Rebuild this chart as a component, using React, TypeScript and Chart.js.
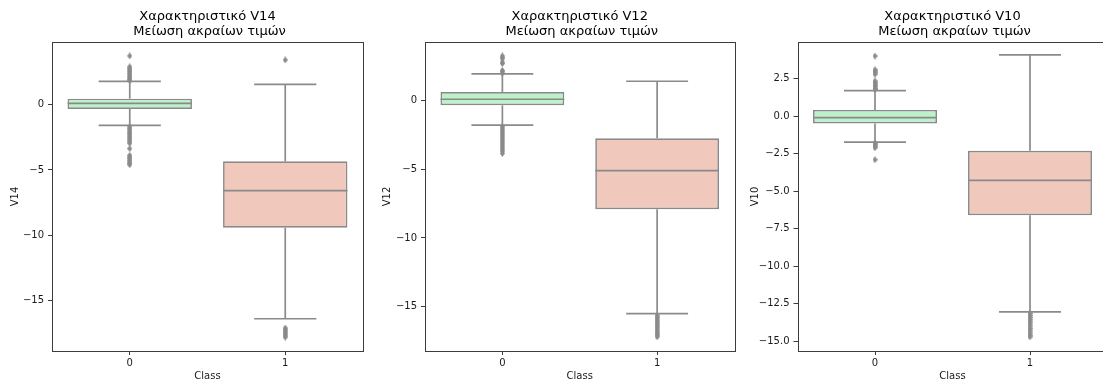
import React, { useEffect, useRef } from "react";
import { Chart, registerables } from "chart.js";

Chart.register(...registerables);

// ---------- data ----------
const categories = ["0", "1"];
const titleLines = ["Χαρακτηριστικό V14", "Χαρακτηριστικό V12", "Χαρακτηριστικό V10"];
const titleSub = " Μείωση ακραίων τιμών";
const yAxisLabels = ["V14", "V12", "V10"];
const xAxisLabel = "Class";

// V14
const v14Q1 = [-0.33, -9.42];
const v14Median = [0.1, -6.58];
const v14Q3 = [0.46, -4.34];
const v14WhiskerLow = [-1.58, -16.39];
const v14WhiskerHigh = [1.79, 1.56];
const v14OutliersClass0 = [3.73, 2.9, 2.78, 2.65, 2.52, 2.4, 2.28, 2.15, 2.03, 1.92, 1.84,
  -1.7, -1.82, -1.95, -2.08, -2.2, -2.33, -2.46, -2.58, -2.7, -2.83, -2.96, -3.37,
  -3.88, -4.0, -4.12, -4.25, -4.38, -4.5, -4.6];
const v14OutliersClass1 = [3.42, -17.1, -17.22, -17.34, -17.46, -17.58, -17.7, -17.8];
const v14YRange = [-18.86, 4.8];
const v14YTicks = [0, -5, -10, -15];

// V12
const v12Q1 = [-0.34, -7.91];
const v12Median = [0.1, -5.1];
const v12Q3 = [0.63, -2.74];
const v12WhiskerLow = [-1.79, -15.51];
const v12WhiskerHigh = [1.94, 1.41];
const v12OutliersClass0 = [3.25, 3.15, 3.05, 2.8, 2.7, 2.2, 2.1, 2.0,
  -1.88, -2.0, -2.12, -2.25, -2.38, -2.5, -2.63, -2.76, -2.9, -3.03, -3.16, -3.3,
  -3.43, -3.56, -3.7, -3.85];
const v12OutliersClass1 = [-15.65, -15.78, -15.9, -16.03, -16.16, -16.3, -16.43, -16.56,
  -16.7, -16.83, -16.96, -17.08, -17.2];
const v12YRange = [-18.23, 4.27];
const v12YTicks = [0, -5, -10, -15];

// V10
const v10Q1 = [-0.49, -6.6];
const v10Median = [-0.09, -4.27];
const v10Q3 = [0.42, -2.31];
const v10WhiskerLow = [-1.73, -13.04];
const v10WhiskerHigh = [1.71, 4.09];
const v10OutliersClass0 = [4.01, 3.1, 3.0, 2.9, 2.8, 2.35, 2.25, 2.15, 2.05, 1.95, 1.85, 1.78,
  -1.8, -1.9, -2.0, -2.1, -2.9];
const v10OutliersClass1 = [-13.15, -13.28, -13.42, -13.56, -13.7, -13.84, -14.0, -14.15,
  -14.3, -14.45, -14.6, -14.71];
const v10YRange = [-15.65, 4.95];
const v10YTicks = [2.5, 0, -2.5, -5, -7.5, -10, -12.5, -15];
const v10TickDecimals = 1;

// ---------- styling / layout ----------
const BOX_FILLS = ["#bcf1ca", "#f1c9bc"];
const LINE_GRAY = "#8a8a8a";
const AXIS_COLOR = "#3c3c3c";
const TEXT_COLOR = "#1a1a1a";
const FONT = "'DejaVu Sans', 'Liberation Sans', sans-serif";

type Panel = {
  title: string;
  yLabel: string;
  q1: number[];
  median: number[];
  q3: number[];
  wLo: number[];
  wHi: number[];
  out0: number[];
  out1: number[];
  yRange: number[];
  yTicks: number[];
  decimals: number;
  left: number;
  width: number;
  axisWidth: number;
  rightPad: number;
  yTitlePad: number;
};

const panels: Panel[] = [
  {
    title: titleLines[0], yLabel: yAxisLabels[0],
    q1: v14Q1, median: v14Median, q3: v14Q3, wLo: v14WhiskerLow, wHi: v14WhiskerHigh,
    out0: v14OutliersClass0, out1: v14OutliersClass1, yRange: v14YRange, yTicks: v14YTicks, decimals: 0,
    left: 0, width: 370, axisWidth: 52, rightPad: 7, yTitlePad: 9.7,
  },
  {
    title: titleLines[1], yLabel: yAxisLabels[1],
    q1: v12Q1, median: v12Median, q3: v12Q3, wLo: v12WhiskerLow, wHi: v12WhiskerHigh,
    out0: v12OutliersClass0, out1: v12OutliersClass1, yRange: v12YRange, yTicks: v12YTicks, decimals: 0,
    left: 370, width: 370, axisWidth: 55, rightPad: 5.5, yTitlePad: 11.3,
  },
  {
    title: titleLines[2], yLabel: yAxisLabels[2],
    q1: v10Q1, median: v10Median, q3: v10Q3, wLo: v10WhiskerLow, wHi: v10WhiskerHigh,
    out0: v10OutliersClass0, out1: v10OutliersClass1, yRange: v10YRange, yTicks: v10YTicks, decimals: v10TickDecimals,
    left: 740, width: 380, axisWidth: 57.5, rightPad: 12.5, yTitlePad: 9,
  },
];

const CANVAS_H = 390;
const PLOT_BOTTOM = 351;

function fmtTick(v: number, decimals: number): string {
  const s = Math.abs(v).toFixed(decimals);
  return v < 0 ? "\u2212" + s : s;
}

function makeDiamond(): HTMLCanvasElement {
  const c = document.createElement("canvas");
  c.width = 5;
  c.height = 7;
  const ctx = c.getContext("2d")!;
  ctx.fillStyle = LINE_GRAY;
  ctx.beginPath();
  ctx.moveTo(2.5, 0);
  ctx.lineTo(5, 3.5);
  ctx.lineTo(2.5, 7);
  ctx.lineTo(0, 3.5);
  ctx.closePath();
  ctx.fill();
  return c;
}

const boxPartsPlugin = {
  id: "boxParts",
  beforeDatasetsDraw(chart: any, _args: any, opts: any) {
    const { ctx } = chart;
    const xs = chart.scales.x;
    const ys = chart.scales.y;
    const unit = xs.getPixelForValue(1) - xs.getPixelForValue(0);
    ctx.save();
    ctx.strokeStyle = LINE_GRAY;
    ctx.lineWidth = 1.7;
    for (let i = 0; i < categories.length; i++) {
      const cx = xs.getPixelForValue(i);
      const capHalf = unit * 0.2;
      const segs: [number, number][] = [
        [opts.q3[i], opts.wHi[i]],
        [opts.q1[i], opts.wLo[i]],
      ];
      for (const [a, b] of segs) {
        ctx.beginPath();
        ctx.moveTo(cx, ys.getPixelForValue(a));
        ctx.lineTo(cx, ys.getPixelForValue(b));
        ctx.stroke();
        const yb = ys.getPixelForValue(b);
        ctx.beginPath();
        ctx.moveTo(cx - capHalf, yb);
        ctx.lineTo(cx + capHalf, yb);
        ctx.stroke();
      }
    }
    ctx.restore();
  },
  afterDatasetsDraw(chart: any, _args: any, opts: any) {
    const { ctx } = chart;
    const xs = chart.scales.x;
    const ys = chart.scales.y;
    const unit = xs.getPixelForValue(1) - xs.getPixelForValue(0);
    ctx.save();
    ctx.strokeStyle = LINE_GRAY;
    ctx.lineWidth = 1.7;
    for (let i = 0; i < categories.length; i++) {
      const cx = xs.getPixelForValue(i);
      const half = unit * 0.4;
      const ym = ys.getPixelForValue(opts.median[i]);
      ctx.beginPath();
      ctx.moveTo(cx - half, ym);
      ctx.lineTo(cx + half, ym);
      ctx.stroke();
    }
    ctx.restore();
  },
  afterDraw(chart: any) {
    const { ctx, chartArea } = chart;
    ctx.save();
    ctx.strokeStyle = AXIS_COLOR;
    ctx.lineWidth = 1;
    ctx.strokeRect(
      Math.round(chartArea.left) + 0.5,
      Math.round(chartArea.top) + 0.5,
      Math.round(chartArea.right) - Math.round(chartArea.left),
      Math.round(chartArea.bottom) - Math.round(chartArea.top)
    );
    ctx.restore();
  },
};

function buildChart(canvas: HTMLCanvasElement, p: Panel, diamond: HTMLCanvasElement) {
  const outlierPoints = [
    ...p.out0.map((y) => ({ x: categories[0], y })),
    ...p.out1.map((y) => ({ x: categories[1], y })),
  ];
  return new Chart(canvas, {
    type: "bar",
    data: {
      labels: categories,
      datasets: [
        {
          type: "bar",
          data: categories.map((_, i) => [p.q1[i], p.q3[i]]) as any,
          backgroundColor: BOX_FILLS,
          borderColor: LINE_GRAY,
          borderWidth: 1.7,
          borderSkipped: false,
          barPercentage: 0.8,
          categoryPercentage: 1.0,
          order: 2,
        } as any,
        {
          type: "scatter",
          data: outlierPoints as any,
          pointStyle: diamond as any,
          pointRadius: 3,
          pointBackgroundColor: LINE_GRAY,
          pointBorderColor: LINE_GRAY,
          order: 1,
        } as any,
      ],
    },
    options: {
      responsive: false,
      animation: false,
      events: [],
      layout: { padding: { left: 0, right: p.rightPad, top: 0, bottom: 0 } },
      plugins: {
        legend: { display: false },
        tooltip: { enabled: false },
        title: {
          display: true,
          fullSize: false,
          text: [p.title, titleSub],
          color: "#000",
          font: { family: FONT, size: 13, weight: "normal", lineHeight: 1.16 },
          padding: { top: 9, bottom: 2.8 },
        },
        boxParts: {
          q1: p.q1, q3: p.q3, median: p.median, wLo: p.wLo, wHi: p.wHi,
        },
      } as any,
      scales: {
        x: {
          type: "category",
          offset: true,
          grid: {
            offset: false,
            drawOnChartArea: false,
            drawTicks: true,
            tickLength: 4,
            color: AXIS_COLOR,
            lineWidth: 1,
          },
          border: { display: false },
          ticks: {
            color: TEXT_COLOR,
            font: { family: FONT, size: 10 },
            padding: 2,
            maxRotation: 0,
          },
          title: {
            display: true,
            text: xAxisLabel,
            color: TEXT_COLOR,
            font: { family: FONT, size: 10 },
            padding: { top: 0, bottom: 8 },
          },
          afterFit: (s: any) => {
            s.height = CANVAS_H - PLOT_BOTTOM;
          },
        },
        y: {
          type: "linear",
          min: p.yRange[0],
          max: p.yRange[1],
          bounds: "data",
          grid: {
            drawOnChartArea: false,
            drawTicks: true,
            tickLength: 4,
            color: AXIS_COLOR,
            lineWidth: 1,
          },
          border: { display: false },
          ticks: {
            color: TEXT_COLOR,
            font: { family: FONT, size: 10 },
            padding: 4,
            callback: (v: any) => fmtTick(Number(v), p.decimals),
          },
          afterBuildTicks: (s: any) => {
            s.ticks = p.yTicks.map((v) => ({ value: v }));
          },
          title: {
            display: true,
            text: p.yLabel,
            color: TEXT_COLOR,
            font: { family: FONT, size: 10 },
            padding: { top: p.yTitlePad, bottom: 0 },
          },
          afterFit: (s: any) => {
            s.width = p.axisWidth;
          },
        },
      } as any,
    },
    plugins: [boxPartsPlugin as any],
  });
}

function BoxPanel({ p }: { p: Panel }) {
  const ref = useRef<HTMLCanvasElement | null>(null);
  useEffect(() => {
    if (!ref.current) return;
    const diamond = makeDiamond();
    const chart = buildChart(ref.current, p, diamond);
    return () => chart.destroy();
  }, [p]);
  return (
    <canvas
      ref={ref}
      width={p.width}
      height={CANVAS_H}
      style={{
        position: "absolute",
        left: p.left,
        top: 0,
        width: p.width,
        height: CANVAS_H,
      }}
    />
  );
}

export default function App() {
  return (
    <div
      style={{
        position: "absolute",
        left: 0,
        top: 0,
        width: 1103,
        height: 381,
        overflow: "hidden",
        background: "#fff",
      }}
    >
      {panels.map((p, i) => (
        <BoxPanel key={i} p={p} />
      ))}
    </div>
  );
}
